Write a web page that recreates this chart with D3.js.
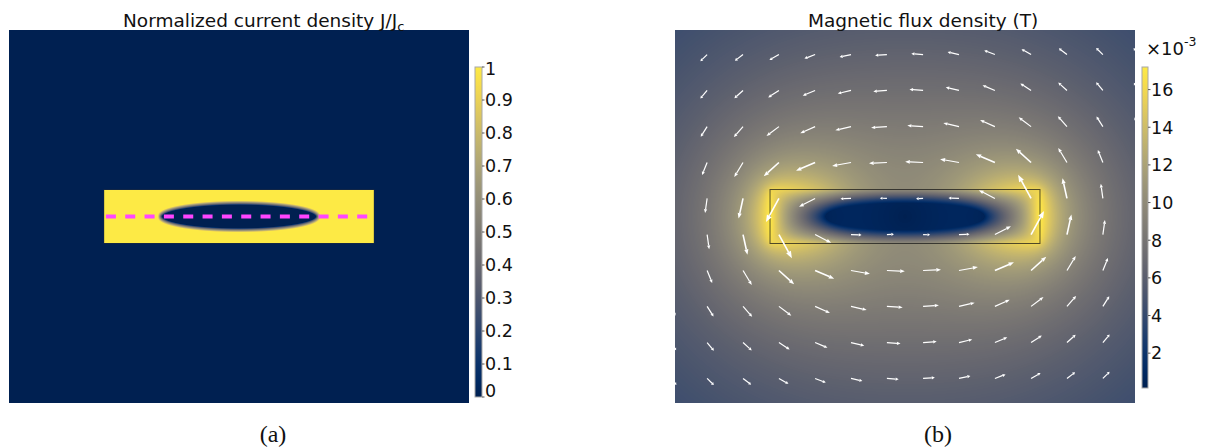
<!DOCTYPE html>
<html>
<head>
<meta charset="utf-8">
<script src="https://cdn.jsdelivr.net/npm/d3@7"></script>
<style>
  body { margin: 0; background: #fff; }
  svg { display: block; }
  text { font-family: "DejaVu Sans", sans-serif; fill: #111; }
</style>
</head>
<body>
<svg id="fig" width="1208" height="448"></svg>
<script>
// geometry, in units of the strip half thickness
const domainX = [-8.52, 8.52];
const domainY = [-6.91, 6.91];
const stripX = [-5, 5];
const stripY = [-1, 1];
const coreAxes = [2.92, 0.5];     // flux free elliptic core (J = 0)
const coreEdge = 0.17;            // width of the J ramp at the core boundary
const cutX = [-4.93, 4.93];       // dashed cut line along y = 0
const bRange = [0.15, 17.2];      // mT, extent of colorbar (b)
const arrowXs = [-8.67, -7.33, -6, -4.67, -3.33, -2, -0.67, 0.67, 2, 3.33, 4.67, 6, 7.33, 8.67];
const arrowYs = [6, 4.67, 3.33, 2, 0.67, -0.67, -2, -3.33, -4.67, -6];
const ticksA = [0, 0.1, 0.2, 0.3, 0.4, 0.5, 0.6, 0.7, 0.8, 0.9, 1];
const ticksB = [2, 4, 6, 8, 10, 12, 14, 16];
const titleA = 'Normalized current density J/J';
const titleB = 'Magnetic flux density (T)';

const svg = d3.select('#fig');
const defs = svg.append('defs');

const panelA = { left: 9, right: 469, top: 30, bottom: 403 };
const panelB = { left: 675, right: 1135, top: 30, bottom: 403 };

const xa = d3.scaleLinear().domain(domainX).range([panelA.left, panelA.right]);
const ya = d3.scaleLinear().domain(domainY).range([panelA.bottom, panelA.top]);
const xb = d3.scaleLinear().domain(domainX).range([panelB.left, panelB.right]);
const yb = d3.scaleLinear().domain(domainY).range([panelB.bottom, panelB.top]);

// ---- current density -------------------------------------------------
function currentDensity(x, y) {
  if (x < stripX[0] || x > stripX[1] || y < stripY[0] || y > stripY[1]) return 0;
  const [a, b] = coreAxes;
  const f = (x / a) ** 2 + (y / b) ** 2 - 1;
  const g = 2 * Math.sqrt((x * x) / (a ** 4) + (y * y) / (b ** 4)) || 1e-9;
  const d = f / g; // approx signed distance to the core boundary
  return Math.max(0, Math.min(1, 0.5 + d / coreEdge));
}

// ---- magnetic field (mu0 = J = 1), strip minus elliptic core ----------
function rectField(x, y) {
  const xs = [x - stripX[0], x - stripX[1]];
  const ys = [y - stripY[0], y - stripY[1]];
  let bx = 0, by = 0;
  for (let i = 0; i < 2; i++) {
    for (let j = 0; j < 2; j++) {
      const s = i === j ? 1 : -1;
      const X = xs[i], Y = ys[j];
      const r2 = X * X + Y * Y;
      const L = r2 > 1e-14 ? Math.log(r2) : 0;
      const F = 0.5 * Y * L + (X !== 0 ? X * Math.atan(Y / X) : 0);
      const H = 0.5 * X * L + (Y !== 0 ? Y * Math.atan(X / Y) : 0);
      by += s * F;
      bx -= s * H;
    }
  }
  return [bx / (2 * Math.PI), by / (2 * Math.PI)];
}

function csqrt(re, im) {
  const r = Math.hypot(re, im);
  const a = Math.sqrt((r + re) / 2);
  const b = Math.sqrt(Math.max(0, (r - re) / 2)) * (im < 0 ? -1 : 1);
  return [a, b];
}

function coreField(x, y) {
  const [a, b] = coreAxes;
  if ((x / a) ** 2 + (y / b) ** 2 <= 1) return [-a * y / (a + b), b * x / (a + b)];
  const c = Math.sqrt(a * a - b * b);
  const s1 = csqrt(x - c, y), s2 = csqrt(x + c, y);
  const wr = s1[0] * s2[0] - s1[1] * s2[1];
  const wi = s1[0] * s2[1] + s1[1] * s2[0];
  const dr = x + wr, di = y + wi;
  const m = dr * dr + di * di;
  const fr = a * b * dr / m, fi = -a * b * di / m; // By + i Bx
  return [fi, fr];
}

function field(x, y) {
  const r = rectField(x, y), c = coreField(x, y);
  return [r[0] - c[0], r[1] - c[1]];
}

// ---- rasters -----------------------------------------------------------
const lut = d3.range(256).map(i => d3.rgb(d3.interpolateCividis(i / 255)));

function raster(panel, xs, ys, valueAt) {
  const w = panel.right - panel.left, h = panel.bottom - panel.top;
  const canvas = document.createElement('canvas');
  canvas.width = w; canvas.height = h;
  const ctx = canvas.getContext('2d');
  const img = ctx.createImageData(w, h);
  for (let j = 0; j < h; j++) {
    const y = ys.invert(panel.top + j + 0.5);
    for (let i = 0; i < w; i++) {
      const x = xs.invert(panel.left + i + 0.5);
      const t = Math.max(0, Math.min(1, valueAt(x, y)));
      const c = lut[Math.round(t * 255)];
      const k = 4 * (j * w + i);
      img.data[k] = c.r; img.data[k + 1] = c.g; img.data[k + 2] = c.b; img.data[k + 3] = 255;
    }
  }
  ctx.putImageData(img, 0, 0);
  return canvas.toDataURL();
}

// scale the field so its peak equals the top of colorbar (b)
let peak = 0;
for (let j = 0; j <= 200; j++) {
  const y = stripY[0] - 0.2 + (j / 200) * (stripY[1] - stripY[0] + 0.4);
  for (let i = 0; i <= 400; i++) {
    const x = stripX[0] - 0.2 + (i / 400) * (stripX[1] - stripX[0] + 0.4);
    const f = field(x, y);
    peak = Math.max(peak, Math.hypot(f[0], f[1]));
  }
}
const toMilliTesla = bRange[1] / peak;
const colorB = d3.scaleLinear().domain([0, bRange[1]]).range([0, 1]).clamp(true);

// ---- panel (a) ---------------------------------------------------------
const gA = svg.append('g');
gA.append('image')
  .attr('x', panelA.left).attr('y', panelA.top)
  .attr('width', panelA.right - panelA.left).attr('height', panelA.bottom - panelA.top)
  .attr('preserveAspectRatio', 'none')
  .attr('href', raster(panelA, xa, ya, currentDensity));

gA.append('rect')
  .attr('x', xa(stripX[0])).attr('y', ya(stripY[1]))
  .attr('width', xa(stripX[1]) - xa(stripX[0])).attr('height', ya(stripY[0]) - ya(stripY[1]))
  .attr('fill', 'none').attr('stroke', '#333').attr('stroke-opacity', 0.45).attr('stroke-width', 0.8);

gA.append('line')
  .attr('x1', xa(cutX[0])).attr('x2', xa(cutX[1]))
  .attr('y1', ya(0)).attr('y2', ya(0))
  .attr('stroke', '#ff45ff').attr('stroke-width', 4)
  .attr('stroke-dasharray', '10,9.33');

gA.append('text')
  .attr('x', 123).attr('y', 26.5)
  .style('font-size', '18.5px')
  .text(titleA)
  .append('tspan').attr('dy', 4).style('font-size', '13px').text('c');

// ---- panel (b) ---------------------------------------------------------
const gB = svg.append('g');
gB.append('image')
  .attr('x', panelB.left).attr('y', panelB.top)
  .attr('width', panelB.right - panelB.left).attr('height', panelB.bottom - panelB.top)
  .attr('preserveAspectRatio', 'none')
  .attr('href', raster(panelB, xb, yb, (x, y) => {
    const f = field(x, y);
    return colorB(Math.hypot(f[0], f[1]) * toMilliTesla);
  }));

gB.append('rect')
  .attr('x', xb(stripX[0])).attr('y', yb(stripY[1]))
  .attr('width', xb(stripX[1]) - xb(stripX[0])).attr('height', yb(stripY[0]) - yb(stripY[1]))
  .attr('fill', 'none').attr('stroke', '#1a1a1a').attr('stroke-opacity', 0.75).attr('stroke-width', 1);

defs.append('clipPath').attr('id', 'clipB')
  .append('rect')
  .attr('x', panelB.left).attr('y', panelB.top)
  .attr('width', panelB.right - panelB.left).attr('height', panelB.bottom - panelB.top);

const arrowPxPerMilliTesla = 1.85;
const arrows = [];
arrowYs.forEach(y => arrowXs.forEach(x => {
  const f = field(x, y);
  const m = Math.hypot(f[0], f[1]);
  arrows.push({ x, y, mag: m * toMilliTesla, ux: f[0] / m, uy: -f[1] / m });
}));

const gArrows = gB.append('g').attr('clip-path', 'url(#clipB)');
arrows.forEach(d => {
  const len = d.mag * arrowPxPerMilliTesla;
  const x0 = xb(d.x), y0 = yb(d.y);
  const x1 = x0 + d.ux * len, y1 = y0 + d.uy * len;
  const hl = Math.max(2.5, len * 0.26), hw = Math.max(1.6, len * 0.1);
  const bx = x1 - d.ux * hl, by = y1 - d.uy * hl;
  gArrows.append('line')
    .attr('x1', x0).attr('y1', y0).attr('x2', bx).attr('y2', by)
    .attr('stroke', '#fff').attr('stroke-width', len > 20 ? 1.6 : 1.2);
  gArrows.append('path')
    .attr('d', `M${x1},${y1}L${bx - d.uy * hw},${by + d.ux * hw}L${bx + d.uy * hw},${by - d.ux * hw}Z`)
    .attr('fill', '#fff');
});

gB.append('text')
  .attr('x', 808).attr('y', 26.5)
  .style('font-size', '18.5px')
  .text(titleB);

// ---- colorbars ---------------------------------------------------------
function gradient(id) {
  const g = defs.append('linearGradient').attr('id', id)
    .attr('x1', 0).attr('y1', 1).attr('x2', 0).attr('y2', 0);
  d3.range(0, 1.0001, 0.05).forEach(t => {
    g.append('stop').attr('offset', t).attr('stop-color', d3.interpolateCividis(t));
  });
}
gradient('cbA');
gradient('cbB');

const barA = d3.scaleLinear().domain([0, 1]).range([397, 67]);
const barB = d3.scaleLinear().domain(bRange).range([388, 67]);

function colorbar(scale, x, w, id, ticks, fmt, ends) {
  const g = svg.append('g');
  const [v0, v1] = scale.domain();
  g.append('rect')
    .attr('x', x).attr('y', scale(v1)).attr('width', w).attr('height', scale(v0) - scale(v1))
    .attr('fill', `url(#${id})`).attr('stroke', '#a8a8a8').attr('stroke-width', 1);
  g.selectAll('line.tick').data(ticks).enter().append('line')
    .attr('x1', x + w).attr('x2', x + w + 2.5)
    .attr('y1', d => scale(d)).attr('y2', d => scale(d))
    .attr('stroke', '#555').attr('stroke-width', 1);
  g.selectAll('text').data(ticks).enter().append('text')
    .attr('x', x + w + 3)
    .attr('y', (d, i) => {
      let y = scale(d);
      if (ends && i === 0) y -= 6.5;
      if (ends && i === ticks.length - 1) y += 2;
      return y;
    })
    .attr('dy', '0.36em')
    .style('font-size', '17.5px')
    .text(fmt);
}
colorbar(barA, 475, 7, 'cbA', ticksA, d => d3.format('~g')(d), true);
colorbar(barB, 1142, 6, 'cbB', ticksB, d => d, false);

const mult = svg.append('text').attr('x', 1146).attr('y', 55).style('font-size', '18px');
mult.append('tspan').text('×10');
mult.append('tspan').attr('dy', -9).style('font-size', '12.5px').text('-3');

// ---- sub figure labels -------------------------------------------------
svg.selectAll('text.sub').data([['(a)', 273], ['(b)', 938]]).enter().append('text')
  .attr('class', 'sub')
  .attr('x', d => d[1]).attr('y', 442)
  .attr('text-anchor', 'middle')
  .style('font-family', '"Liberation Serif", "DejaVu Serif", serif')
  .style('font-size', '24px')
  .text(d => d[0]);
</script>
</body>
</html>
